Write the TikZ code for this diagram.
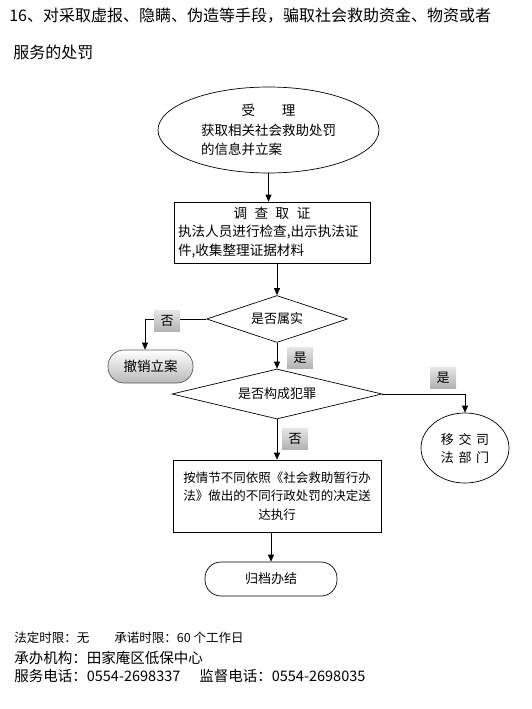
\documentclass[tikz,border=0pt]{standalone}
\usepackage{fontspec}
\setmainfont{Noto Sans CJK SC}
\usetikzlibrary{arrows.meta,positioning,shapes.geometric}

\begin{document}
\begin{tikzpicture}[x=1pt,y=-1pt,
    line width=0.7pt,
    arrow/.style={-{Triangle[length=7pt,width=6pt]}},
    procbox/.style={draw, rectangle, inner sep=4pt},
    decision/.style={draw, diamond, inner sep=0pt, font=\fontsize{13}{16}\selectfont},
    tag/.style={rectangle, top color=gray!20, bottom color=gray!60, minimum width=26pt,
      minimum height=21pt, inner sep=0pt, font=\fontsize{13}{16}\selectfont},
    terminal/.style={draw, rectangle, rounded corners=16pt, font=\fontsize{13}{16}\selectfont}]
  \useasboundingbox (0,0) rectangle (532,709);

  % heading
  \node[anchor=west, inner sep=0pt, font=\fontsize{16}{18}\selectfont] (title1) at (9,16)
    {16、对采取虚报、隐瞒、伪造等手段，骗取社会救助资金、物资或者};
  \node[anchor=west, inner sep=0pt, font=\fontsize{16}{18}\selectfont] (title2) at (13,52)
    {服务的处罚};

  % flow nodes
  \node[draw, ellipse, minimum width=221pt, minimum height=86pt, inner sep=1pt, align=left,
    font=\fontsize{13.5}{19.5}\selectfont] (accept) at (268.5,130)
    {\makebox[135pt]{受\hspace{2em}理}\\获取相关社会救助处罚\\的信息并立案};
  \node[procbox, text width=188pt, minimum height=61pt, align=left,
    font=\fontsize{13.6}{18.5}\selectfont] (survey) at (272,232.5)
    {\makebox[\linewidth]{调\hspace{0.55em}查\hspace{0.55em}取\hspace{0.55em}证}\\
     执法人员进行检查,出示执法证\\件,收集整理证据材料};
  \node[decision, aspect=3, minimum width=141pt, minimum height=47pt] (d1) at (277,319) {是否属实};
  \node[decision, aspect=4.2, minimum width=210pt, minimum height=50pt] (d2) at (277,394) {是否构成犯罪};
  \node[draw=gray!70!black, rectangle, rounded corners=16pt, minimum width=85pt, minimum height=33pt,
    top color=white, bottom color=gray!55, font=\fontsize{13.5}{16}\selectfont] (cancel) at (150.5,366.5)
    {撤销立案};
  \node[draw, ellipse, minimum width=88pt, minimum height=70pt, inner sep=1pt, align=center,
    font=\fontsize{13}{18}\selectfont] (court) at (465,448)
    {移\hspace{0.35em}交\hspace{0.35em}司\\法\hspace{0.35em}部\hspace{0.35em}门};
  \node[procbox, text width=200pt, minimum height=72pt, align=center,
    font=\fontsize{12.5}{18.5}\selectfont] (decide) at (277,496)
    {按情节不同依照《社会救助暂行办\\法》做出的不同行政处罚的决定送\\达执行};
  \node[terminal, minimum width=132pt, minimum height=34pt] (archive) at (271,579) {归档办结};

  % connectors
  \draw[arrow] (accept.south) -- (accept.south |- survey.north);
  \draw[arrow] (survey.south -| d1.north) -- (d1.north);
  \draw[arrow] (d1.west) -| ([xshift=-5.5pt]cancel.north);
  \draw[arrow] (d1.south) -- (d2.north);
  \draw[arrow] (d2.east) -| (court.north);
  \draw[arrow] (d2.south) -- (decide.north);
  \draw[arrow] (decide.south -| archive.north) -- (archive.north);

  % yes / no tags
  \node[tag] (tagno1) at (167,321) {否};
  \node[tag] (tagyes1) at (300,357.5) {是};
  \node[tag] (tagyes2) at (443,377.5) {是};
  \node[tag] (tagno2) at (295,438.5) {否};

  % footer
  \node[anchor=west, inner sep=0pt, font=\fontsize{12.5}{14}\selectfont] (limit) at (14,638) {法定时限：无};
  \node[anchor=west, inner sep=0pt, font=\fontsize{12.5}{14}\selectfont] (promise) at (114,638) {承诺时限：60 个工作日};
  \node[anchor=west, inner sep=0pt, font=\fontsize{14.5}{16}\selectfont] (office) at (14,658) {承办机构：田家庵区低保中心};
  \node[anchor=west, inner sep=0pt, font=\fontsize{14.5}{16}\selectfont] (phone) at (14,676) {服务电话：0554-2698337};
  \node[anchor=west, inner sep=0pt, font=\fontsize{14.5}{16}\selectfont] (watch) at (199,676) {监督电话：0554-2698035};
\end{tikzpicture}
\end{document}
